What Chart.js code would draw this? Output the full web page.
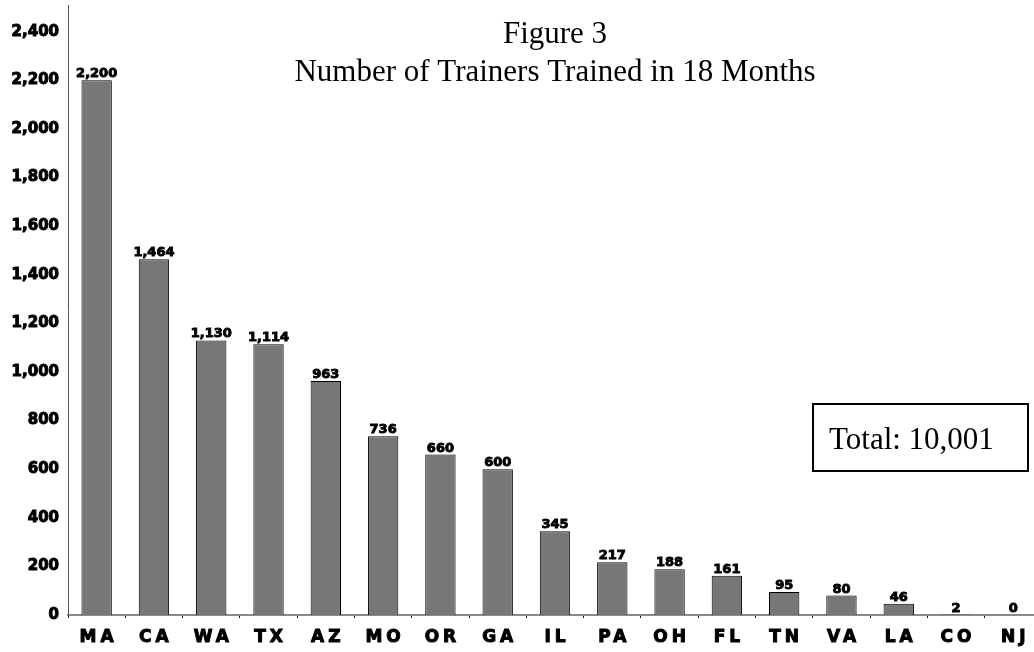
<!DOCTYPE html>
<html>
<head>
<meta charset="utf-8">
<script src="https://cdn.jsdelivr.net/npm/chart.js@4.4.0/dist/chart.umd.min.js"></script>
<style>
  html, body { margin: 0; padding: 0; background: #fff; overflow: hidden; }
  #wrap { width: 1034px; height: 652px; overflow: hidden; position: relative; }
  canvas { display: block; }
</style>
</head>
<body>
<div id="wrap"><canvas id="myChart" width="1042" height="652"></canvas></div>
<script>
const states = ['MA', 'CA', 'WA', 'TX', 'AZ', 'MO', 'OR', 'GA', 'IL', 'PA', 'OH', 'FL', 'TN', 'VA', 'LA', 'CO', 'NJ'];
const trainers = [2200, 1464, 1130, 1114, 963, 736, 660, 600, 345, 217, 188, 161, 95, 80, 46, 2, 0];
const yTicks = [0, 200, 400, 600, 800, 1000, 1200, 1400, 1600, 1800, 2000, 2200, 2400];
const titleLines = ['Figure 3', 'Number of Trainers Trained in 18 Months'];
const totalText = 'Total: 10,001';

const fmt = v => v.toLocaleString('en-US');

// value labels on top of each bar
const barLabels = {
  id: 'barLabels',
  afterDatasetsDraw(chart) {
    const ctx = chart.ctx;
    const meta = chart.getDatasetMeta(0);
    ctx.save();
    ctx.font = 'bold 13px "DejaVu Sans"';
    ctx.fillStyle = '#000';
    ctx.strokeStyle = '#000';
    ctx.lineWidth = 0.9;
    ctx.textAlign = 'center';
    ctx.textBaseline = 'alphabetic';
    meta.data.forEach((bar, i) => {
      const txt = fmt(trainers[i]);
      ctx.strokeText(txt, bar.x, bar.y - 3);
      ctx.fillText(txt, bar.x, bar.y - 3);
    });
    ctx.restore();
  }
};

// two-line title and the total box
const annotations = {
  id: 'annotations',
  afterDraw(chart) {
    const ctx = chart.ctx;
    const area = chart.chartArea;
    const cx = (area.left + area.right) / 2;
    ctx.save();
    ctx.fillStyle = '#000';
    ctx.font = '31px "Liberation Serif"';
    ctx.textAlign = 'center';
    ctx.textBaseline = 'alphabetic';
    ctx.fillText(titleLines[0], cx, 43);
    ctx.fillText(titleLines[1], cx, 81);

    ctx.strokeStyle = '#000';
    ctx.lineWidth = 2;
    ctx.strokeRect(813, 404, 215, 67);
    ctx.textAlign = 'left';
    ctx.fillText(totalText, 829, 449);
    ctx.restore();
  }
};

// slightly spaced-out category labels, like the original
const spacedX = {
  id: 'spacedX',
  afterUpdate(chart) {
    const xs = chart.scales.x;
    if (xs && !xs._spaced) {
      const orig = xs.drawLabels.bind(xs);
      xs.drawLabels = function (area) {
        const c = this.ctx;
        c.save();
        c.letterSpacing = '4px';
        orig(area);
        c.restore();
      };
      xs._spaced = true;
    }
  }
};

const ctx = document.getElementById('myChart').getContext('2d');
new Chart(ctx, {
  type: 'bar',
  data: {
    labels: states,
    datasets: [{
      data: trainers,
      backgroundColor: '#777777',
      borderColor: '#000',
      borderWidth: 1,
      barPercentage: 0.53,
      categoryPercentage: 1.0
    }]
  },
  options: {
    responsive: false,
    animation: false,
    devicePixelRatio: 1,
    layout: { padding: { top: 5, right: 0, left: 0, bottom: 0 } },
    plugins: {
      legend: { display: false },
      tooltip: { enabled: false }
    },
    scales: {
      x: {
        grid: {
          display: true,
          drawOnChartArea: false,
          drawTicks: true,
          tickLength: 3,
          color: '#000',
          offset: true
        },
        border: { display: true, color: '#8a8a8a', width: 2 },
        ticks: {
          font: { family: 'DejaVu Sans', weight: 'bold', size: 17 },
          color: '#000',
          textStrokeColor: '#000',
          textStrokeWidth: 1,
          padding: 9,
          labelOffset: 2,
          maxRotation: 0,
          autoSkip: false
        },
        afterFit(scale) { scale.height = 37; }
      },
      y: {
        min: 0,
        max: 2510,
        afterBuildTicks(scale) {
          scale.ticks = yTicks.map(v => ({ value: v }));
        },
        grid: { display: false, drawTicks: false },
        border: { display: true, color: '#555', width: 1 },
        ticks: {
          font: { family: 'DejaVu Sans', weight: 'bold', size: 15 },
          color: '#000',
          textStrokeColor: '#000',
          textStrokeWidth: 1,
          padding: 9,
          callback: v => fmt(v)
        },
        afterFit(scale) {
          scale.width = 68;
          scale.paddingTop = 0;
          scale.paddingBottom = 0;
        }
      }
    }
  },
  plugins: [barLabels, annotations, spacedX]
});
</script>
</body>
</html>
